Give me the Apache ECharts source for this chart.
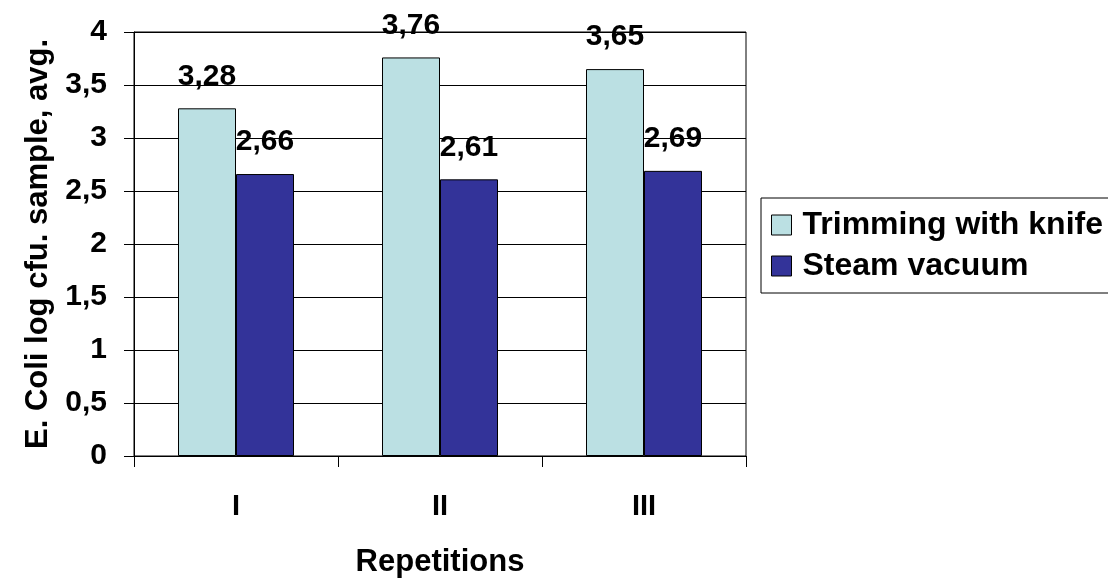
<!DOCTYPE html>
<html>
<head>
<meta charset="utf-8">
<script src="https://cdn.jsdelivr.net/npm/echarts@6/dist/echarts.min.js"></script>
<style>
  html, body { margin: 0; padding: 0; background: #fff; }
  #chart { width: 1108px; height: 583px; }
</style>
</head>
<body>
<div id="chart"></div>
<script>
// Repetitions on the x axis
const categories = ['I', 'II', 'III'];
// Average E. coli counts (log cfu per sample)
const trimmingValues = [3.28, 3.76, 3.65];
const steamValues = [2.66, 2.61, 2.69];
const seriesNames = ['Trimming with knife', 'Steam vacuum'];

const FONT = '"Liberation Sans", Arial, sans-serif';
const commaDecimal = v => String(v).replace('.', ',');

const chart = echarts.init(document.getElementById('chart'), null, { renderer: 'canvas' });

const labelStyle = {
  show: true,
  position: 'top',
  distance: 17,
  fontFamily: FONT,
  fontWeight: 'bold',
  fontSize: 30,
  color: '#000',
  formatter: p => commaDecimal(p.value)
};

chart.setOption({
  animation: false,
  backgroundColor: '#fff',
  grid: {
    left: 134, right: 362, top: 32, bottom: 126,
    show: true, borderColor: '#000', borderWidth: 1, backgroundColor: 'transparent'
  },
  legend: {
    orient: 'vertical',
    left: 761, top: 198,
    padding: [11, 12, 11, 10],
    icon: 'rect',
    itemWidth: 20, itemHeight: 20,
    itemGap: 9,
    borderColor: '#000', borderWidth: 1,
    itemStyle: { borderColor: '#000', borderWidth: 1 },
    textStyle: {
      fontFamily: FONT, fontWeight: 'bold', fontSize: 32, color: '#000',
      padding: [0, 0, 0, 6]
    },
    data: seriesNames
  },
  xAxis: {
    type: 'category',
    data: categories,
    name: 'Repetitions',
    nameLocation: 'middle',
    nameGap: 91,
    nameTextStyle: { fontFamily: FONT, fontWeight: 'bold', fontSize: 31, color: '#000' },
    axisLine: { lineStyle: { color: '#000', width: 1 } },
    axisTick: { show: true, length: 11, lineStyle: { color: '#000' } },
    axisLabel: { margin: 36, fontFamily: FONT, fontWeight: 'bold', fontSize: 29, color: '#000' }
  },
  yAxis: {
    type: 'value',
    min: 0, max: 4, interval: 0.5,
    name: 'E. Coli log cfu. sample, avg.',
    nameLocation: 'middle',
    nameGap: 80,
    nameTextStyle: { fontFamily: FONT, fontWeight: 'bold', fontSize: 31, color: '#000' },
    axisLine: { show: true, lineStyle: { color: '#000', width: 1 } },
    axisTick: { show: true, length: 10, lineStyle: { color: '#000' } },
    axisLabel: {
      margin: 27, fontFamily: FONT, fontWeight: 'bold', fontSize: 30, color: '#000',
      formatter: v => commaDecimal(v)
    },
    splitLine: { show: true, lineStyle: { color: '#000', width: 1 } }
  },
  series: [
    {
      name: seriesNames[0],
      type: 'bar',
      data: trimmingValues,
      barWidth: 58,
      barGap: '0%',
      itemStyle: { color: '#BBE0E3', borderColor: '#000', borderWidth: 1 },
      label: labelStyle
    },
    {
      name: seriesNames[1],
      type: 'bar',
      data: steamValues,
      barWidth: 58,
      barGap: '0%',
      itemStyle: { color: '#333399', borderColor: '#000', borderWidth: 1 },
      label: labelStyle
    }
  ]
});
</script>
</body>
</html>
